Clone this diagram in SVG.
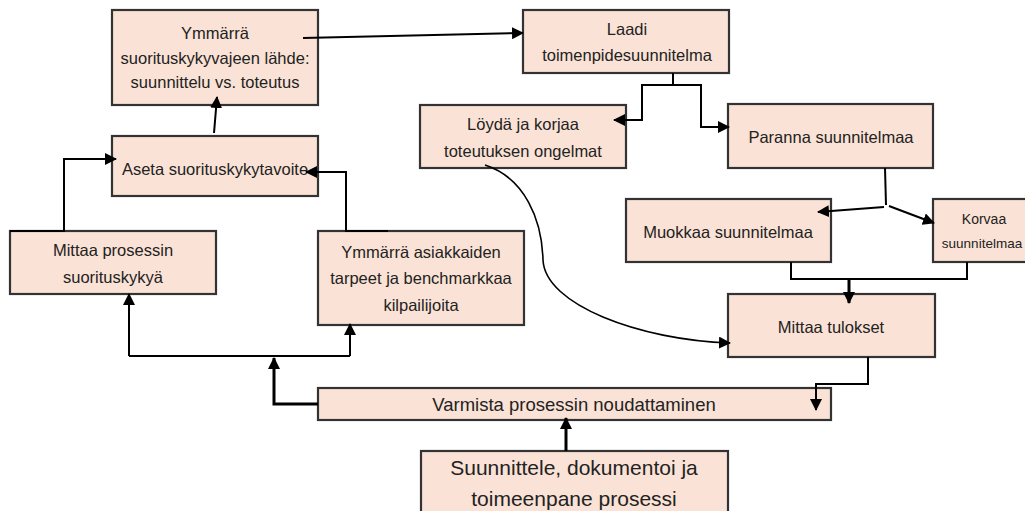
<svg xmlns="http://www.w3.org/2000/svg" width="1025" height="511" viewBox="0 0 1025 511">
<style>
.box{fill:#FBE2D6;stroke:#333;stroke-width:2.2}
.t{font-family:"Liberation Sans",Arial,sans-serif;font-size:16.5px;fill:#222;text-anchor:middle}
.c{fill:none;stroke:#000;stroke-width:2}
.ck{fill:none;stroke:#000;stroke-width:3}
.cc{fill:none;stroke:#000;stroke-width:1.6}
</style>
<defs>
<marker id="ah" markerUnits="userSpaceOnUse" markerWidth="12" markerHeight="12" refX="11" refY="6" orient="auto" viewBox="0 0 12 12">
<path d="M0,0 L12,6 L0,12 z" fill="#000"/>
</marker>
</defs>
<rect width="1025" height="511" fill="#fff"/>

<g id="n-lahde"><rect class="box" x="112" y="10" width="206" height="95"/>
<text class="t" x="215" y="39">Ymmärrä</text>
<text class="t" x="215" y="63.5">suorituskykyvajeen lähde:</text>
<text class="t" x="215" y="88">suunnittelu vs. toteutus</text></g>

<g id="n-aseta"><rect class="box" x="112" y="136" width="206" height="60"/>
<text class="t" x="215" y="175">Aseta suorituskykytavoite</text></g>

<g id="n-laadi"><rect class="box" x="523" y="10" width="206" height="63"/>
<text class="t" x="627" y="35">Laadi</text>
<text class="t" x="627" y="61">toimenpidesuunnitelma</text></g>

<g id="n-loyda"><rect class="box" x="420" y="105" width="206" height="63"/>
<text class="t" x="523" y="130">Löydä ja korjaa</text>
<text class="t" x="523" y="157">toteutuksen ongelmat</text></g>

<g id="n-paranna"><rect class="box" x="728" y="104" width="205" height="64"/>
<text class="t" x="831" y="143">Paranna suunnitelmaa</text></g>

<g id="n-muokkaa"><rect class="box" x="626" y="199" width="205" height="63"/>
<text class="t" x="728" y="238">Muokkaa suunnitelmaa</text></g>

<g id="n-korvaa"><rect class="box" x="933" y="199" width="110" height="63"/>
<text class="t" x="984" y="224" style="font-size:14px">Korvaa</text>
<text class="t" x="982" y="248" style="font-size:13.5px">suunnitelmaa</text></g>

<g id="n-mittaa-prosessin"><rect class="box" x="10" y="231" width="206" height="63"/>
<text class="t" x="113" y="256">Mittaa prosessin</text>
<text class="t" x="113" y="283">suorituskykyä</text></g>

<g id="n-asiakkaat"><rect class="box" x="318" y="231" width="206" height="94"/>
<text class="t" x="421" y="258">Ymmärrä asiakkaiden</text>
<text class="t" x="421" y="284">tarpeet ja benchmarkkaa</text>
<text class="t" x="421" y="311">kilpailijoita</text></g>

<g id="n-mittaa-tulokset"><rect class="box" x="728" y="294" width="207" height="63"/>
<text class="t" x="831" y="333">Mittaa tulokset</text></g>

<g id="n-varmista"><rect class="box" x="318" y="388" width="513" height="32"/>
<text class="t" x="574" y="411" style="font-size:18.5px">Varmista prosessin noudattaminen</text></g>

<g id="n-suunnittele"><rect class="box" x="421" y="451" width="307" height="70"/>
<text class="t" x="574" y="475" style="font-size:21px">Suunnittele, dokumentoi ja</text>
<text class="t" x="574" y="506" style="font-size:21px">toimeenpane prosessi</text></g>

<g id="connectors">
<path class="c" d="M303,38 L523,33" marker-end="url(#ah)"/>
<path class="c" d="M214,133 L217,97" marker-end="url(#ah)"/>
<path class="c" d="M673,73 V85 H642 V120 H614" marker-end="url(#ah)"/>
<path class="c" d="M673,85 H701 V127 H729" marker-end="url(#ah)"/>
<path class="c" d="M885,168 L886,205"/>
<path class="c" d="M884,207 L818,212" marker-end="url(#ah)"/>
<path class="c" d="M889,206 L934,223" marker-end="url(#ah)"/>
<path class="c" d="M791,262 V279 H967 V262"/>
<path class="ck" d="M849,279 V303" marker-end="url(#ah)"/>
<path class="cc" d="M485,165 C525,178 542,220 543,260 C545,305 640,340 730,343" marker-end="url(#ah)"/>
<path class="c" d="M868,357 V384 H816 V410" marker-end="url(#ah)"/>
<path class="ck" d="M566,451 V418" marker-end="url(#ah)"/>
<path class="ck" d="M318,404 H274 V358" marker-end="url(#ah)"/>
<path class="c" d="M129,356 H350"/>
<path class="c" d="M129,356 V294" marker-end="url(#ah)"/>
<path class="c" d="M350,356 V324" marker-end="url(#ah)"/>
<path class="c" d="M10,231 H64 V159 H116" marker-end="url(#ah)"/>
<path class="c" d="M388,231 H346 V172 H306" marker-end="url(#ah)"/>
</g>
</svg>
